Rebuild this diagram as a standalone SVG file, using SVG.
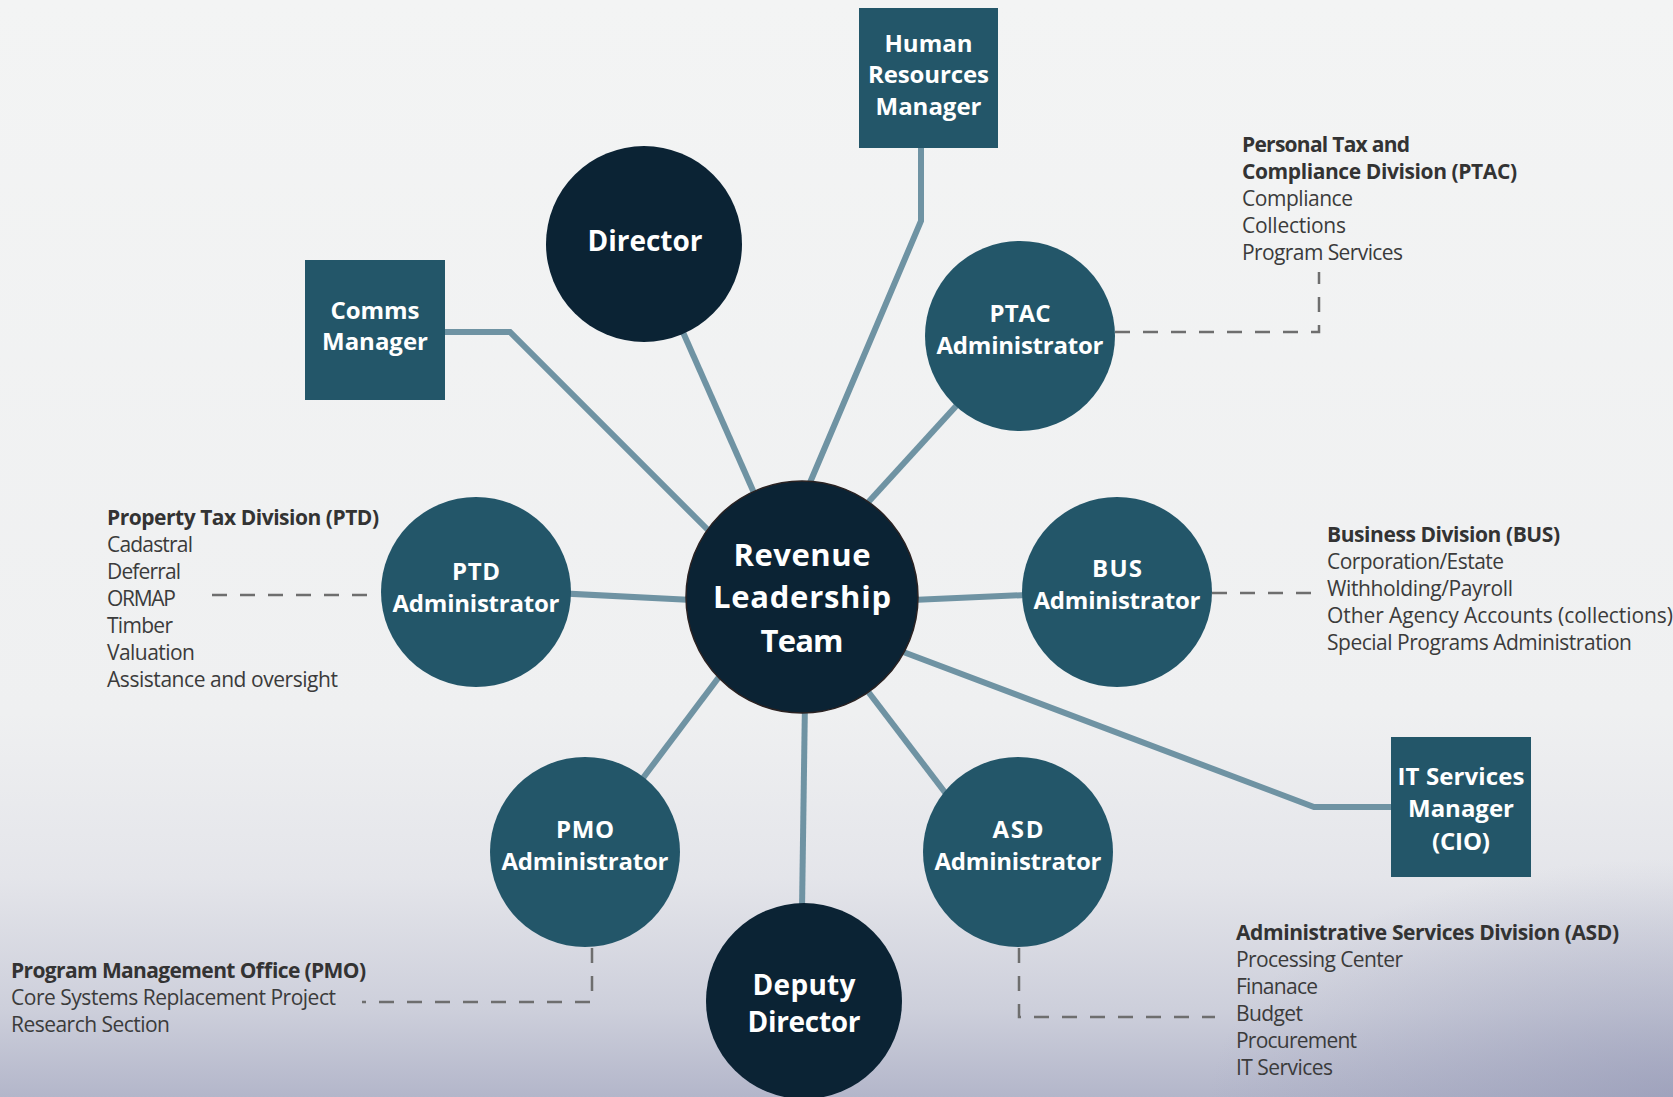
<svg xmlns="http://www.w3.org/2000/svg" width="1673" height="1097" viewBox="0 0 1673 1097">
<defs>
<linearGradient id="bg" x1="0" y1="0" x2="0" y2="1">
<stop offset="0" stop-color="#f3f4f4"/>
<stop offset="0.65" stop-color="#eff0f1"/>
<stop offset="0.8" stop-color="#e4e5ea"/>
<stop offset="0.92" stop-color="#cdcfdb"/>
<stop offset="1" stop-color="#b3b6ca"/>
</linearGradient>
<radialGradient id="br" cx="1" cy="1" r="0.6" gradientUnits="objectBoundingBox">
<stop offset="0" stop-color="#8f93b2" stop-opacity="0.55"/>
<stop offset="1" stop-color="#8f93b2" stop-opacity="0"/>
</radialGradient>
<style>
.dark{fill:#0b2334}
.teal{fill:#235669}
.lbl{font-family:"Open Sans","Noto Sans","Liberation Sans",sans-serif;font-weight:bold;fill:#ffffff;text-anchor:middle}
.desc{font-family:"Open Sans","Noto Sans","Liberation Sans",sans-serif;font-size:21px;fill:#3b3b3b}
.desc .t{font-weight:bold;fill:#333333}
.conn{fill:none;stroke:#6f93a3;stroke-width:6}
.dash{fill:none;stroke:#6e6e6e;stroke-width:2.5;stroke-dasharray:15 13}
</style>
</defs>
<rect width="1673" height="1097" fill="url(#bg)"/>
<rect x="900" y="700" width="773" height="397" fill="url(#br)"/>

<g id="connectors">
<path class="conn" d="M445,332 H510 L716,538"/>
<path class="conn" d="M644,244 L800,597"/>
<path class="conn" d="M921,148 V221 L806,492"/>
<path class="conn" d="M1020,336 L862,509"/>
<path class="conn" d="M476,589 L712,601"/>
<path class="conn" d="M890,601 L1117,591"/>
<path class="conn" d="M890,647 L1314,807 H1391"/>
<path class="conn" d="M860,681 L950,799"/>
<path class="conn" d="M725,669 L637,786"/>
<path class="conn" d="M805,700 L802,910"/>
<path class="dash" d="M1115,332 H1319 V272"/>
<path class="dash" d="M367,595 H203"/>
<path class="dash" d="M1212,593 H1313"/>
<path class="dash" d="M592,948 V1002 H362"/>
<path class="dash" d="M1019,948 V1017 H1215"/>
</g>

<g id="hr-manager">
<rect class="teal" x="859" y="8" width="139" height="140"/>
<text class="lbl" font-size="24" x="928.5" y="52" textLength="88">Human</text>
<text class="lbl" font-size="24" x="928.5" y="83" textLength="121">Resources</text>
<text class="lbl" font-size="24" x="928.5" y="115" textLength="106">Manager</text>
</g>

<g id="comms-manager">
<rect class="teal" x="305" y="260" width="140" height="140"/>
<text class="lbl" font-size="24" x="375" y="319" textLength="89">Comms</text>
<text class="lbl" font-size="24" x="375" y="350" textLength="106">Manager</text>
</g>

<g id="director">
<circle class="dark" cx="644" cy="244" r="98"/>
<text class="lbl" font-size="28" x="645" y="251" textLength="115">Director</text>
</g>

<g id="ptac-admin">
<circle class="teal" cx="1020" cy="336" r="95"/>
<text class="lbl" font-size="24" x="1020" y="322" textLength="61">PTAC</text>
<text class="lbl" font-size="24" x="1020" y="354" textLength="167">Administrator</text>
</g>

<g id="ptd-admin">
<circle class="teal" cx="476" cy="592" r="95"/>
<text class="lbl" font-size="24" x="476" y="580" textLength="48">PTD</text>
<text class="lbl" font-size="24" x="476" y="612" textLength="167">Administrator</text>
</g>

<g id="bus-admin">
<circle class="teal" cx="1117" cy="592" r="95"/>
<text class="lbl" font-size="24" x="1117" y="577" textLength="50">BUS</text>
<text class="lbl" font-size="24" x="1117" y="609" textLength="167">Administrator</text>
</g>

<g id="pmo-admin">
<circle class="teal" cx="585" cy="852" r="95"/>
<text class="lbl" font-size="24" x="585" y="838" textLength="58">PMO</text>
<text class="lbl" font-size="24" x="585" y="870" textLength="167">Administrator</text>
</g>

<g id="asd-admin">
<circle class="teal" cx="1018" cy="852" r="95"/>
<text class="lbl" font-size="24" x="1018" y="838" textLength="51">ASD</text>
<text class="lbl" font-size="24" x="1018" y="870" textLength="167">Administrator</text>
</g>

<g id="it-manager">
<rect class="teal" x="1391" y="737" width="140" height="140"/>
<text class="lbl" font-size="24" x="1461" y="785" textLength="127">IT Services</text>
<text class="lbl" font-size="24" x="1461" y="817" textLength="106">Manager</text>
<text class="lbl" font-size="24" x="1461" y="850" textLength="58">(CIO)</text>
</g>

<g id="revenue-leadership-team">
<circle class="dark" cx="802" cy="597" r="116" stroke="#2a2222" stroke-width="1.5"/>
<text class="lbl" font-size="31" x="802" y="566" textLength="137">Revenue</text>
<text class="lbl" font-size="31" x="802" y="608" textLength="178">Leadership</text>
<text class="lbl" font-size="31" x="802" y="652" textLength="83">Team</text>
</g>

<g id="deputy-director">
<circle class="dark" cx="804" cy="1001" r="98"/>
<text class="lbl" font-size="28" x="804" y="995" textLength="103">Deputy</text>
<text class="lbl" font-size="28" x="804" y="1032" textLength="113">Director</text>
</g>

<g id="ptac-desc" class="desc">
<text class="t" x="1242" y="152" textLength="168">Personal Tax and</text>
<text class="t" x="1242" y="179" textLength="275">Compliance Division (PTAC)</text>
<text x="1242" y="206" textLength="111">Compliance</text>
<text x="1242" y="233" textLength="104">Collections</text>
<text x="1242" y="260" textLength="161">Program Services</text>
</g>

<g id="ptd-desc" class="desc">
<text class="t" x="107" y="525" textLength="272">Property Tax Division (PTD)</text>
<text x="107" y="552" textLength="86">Cadastral</text>
<text x="107" y="579" textLength="74">Deferral</text>
<text x="107" y="606" textLength="69">ORMAP</text>
<text x="107" y="633" textLength="66">Timber</text>
<text x="107" y="660" textLength="88">Valuation</text>
<text x="107" y="687" textLength="231">Assistance and oversight</text>
</g>

<g id="bus-desc" class="desc">
<text class="t" x="1327" y="542" textLength="233">Business Division (BUS)</text>
<text x="1327" y="569" textLength="177">Corporation/Estate</text>
<text x="1327" y="596" textLength="186">Withholding/Payroll</text>
<text x="1327" y="623" textLength="346">Other Agency Accounts (collections)</text>
<text x="1327" y="650" textLength="305">Special Programs Administration</text>
</g>

<g id="pmo-desc" class="desc">
<text class="t" x="11" y="978" textLength="355">Program Management Office (PMO)</text>
<text x="11" y="1005" textLength="325">Core Systems Replacement Project</text>
<text x="11" y="1032" textLength="159">Research Section</text>
</g>

<g id="asd-desc" class="desc">
<text class="t" x="1236" y="940" textLength="383">Administrative Services Division (ASD)</text>
<text x="1236" y="967" textLength="167">Processing Center</text>
<text x="1236" y="994" textLength="82">Finanace</text>
<text x="1236" y="1021" textLength="67">Budget</text>
<text x="1236" y="1048" textLength="121">Procurement</text>
<text x="1236" y="1075" textLength="97">IT Services</text>
</g>
</svg>
